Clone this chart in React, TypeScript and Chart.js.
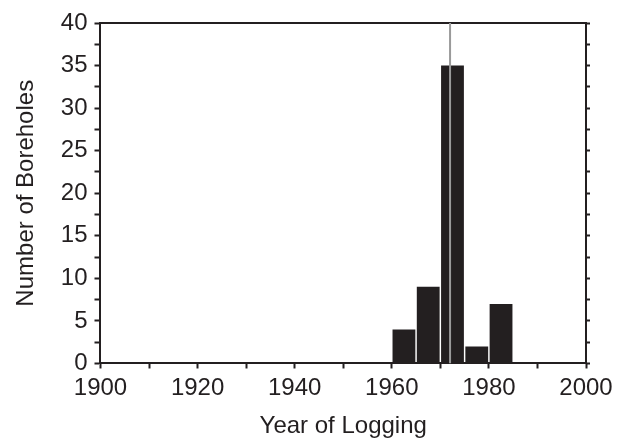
import React, { useEffect, useRef } from "react";
import { Chart, registerables } from "chart.js";

Chart.register(...registerables);

const binCenters = [1962.5, 1967.5, 1972.5, 1977.5, 1982.5];
const boreholeCounts = [4, 9, 35, 2, 7];
const markerYear = 1972;
const xMin = 1900;
const xMax = 2000;
const yMin = 0;
const yMax = 40;
const xTitle = "Year of Logging";
const yTitle = "Number of Boreholes";

const INK = "#231f20";
const FONT = "'Liberation Sans', Arial, Helvetica, sans-serif";

export default function App() {
  const ref = useRef<HTMLCanvasElement | null>(null);
  useEffect(() => {
    document.body.style.margin = "0";
    const ctx = ref.current!;
    const chart = new Chart(ctx, {
      type: "bar",
      data: {
        datasets: [
          {
            type: "line",
            data: [
              { x: markerYear, y: yMin },
              { x: markerYear, y: yMax },
            ],
            borderColor: "#9a9a9a",
            borderWidth: 2,
            pointRadius: 0,
            order: 0,
            xAxisID: "x",
            yAxisID: "y",
          } as any,
          {
            type: "bar",
            data: binCenters.map((c, i) => ({ x: c, y: boreholeCounts[i] })),
            backgroundColor: INK,
            borderWidth: 0,
            categoryPercentage: 1,
            barPercentage: 0.94,
            order: 1,
            xAxisID: "x",
            yAxisID: "y",
          } as any,
        ],
      },
      options: {
        animation: false,
        responsive: true,
        maintainAspectRatio: false,
        layout: { padding: { top: 23, right: 34, left: 0, bottom: 0 } },
        plugins: { legend: { display: false }, tooltip: { enabled: false } },
        scales: {
          x: {
            type: "linear",
            position: "bottom",
            min: xMin,
            max: xMax,
            offset: false,
            grid: { offset: false, drawOnChartArea: false, drawTicks: true, tickLength: 5, tickColor: INK, tickWidth: 2 },
            border: { display: true, color: INK, width: 2 },
            ticks: {
              stepSize: 10,
              autoSkip: false,
              maxRotation: 0,
              color: INK,
              padding: 8,
              font: { family: FONT, size: 24, lineHeight: 1 },
              callback: (v: any) => (Number(v) % 20 === 0 ? String(v) : ""),
            },
            title: { display: true, text: xTitle, color: INK, font: { family: FONT, size: 24, lineHeight: 0.98 }, padding: { top: 6, bottom: 0 } },
          },
          xTop: {
            type: "linear",
            position: "top",
            min: xMin,
            max: xMax,
            grid: { drawOnChartArea: false, drawTicks: false },
            border: { display: true, color: INK, width: 2 },
            ticks: { display: false },
          },
          y: {
            type: "linear",
            position: "left",
            min: yMin,
            max: yMax,
            grid: { drawOnChartArea: false, drawTicks: true, tickLength: 6, tickColor: INK, tickWidth: 2 },
            border: { display: true, color: INK, width: 2 },
            ticks: {
              stepSize: 2.5,
              autoSkip: false,
              color: INK,
              padding: 7,
              font: { family: FONT, size: 24 },
              callback: (v: any) => (Number(v) % 5 === 0 ? String(v) : ""),
            },
            title: { display: true, text: yTitle, color: INK, font: { family: FONT, size: 24 }, padding: { top: 12, bottom: 13 } },
          },
          yRight: {
            type: "linear",
            position: "right",
            min: yMin,
            max: yMax,
            grid: { drawOnChartArea: false, drawTicks: true, tickLength: 4, tickColor: INK, tickWidth: 2 },
            border: { display: true, color: INK, width: 2 },
            ticks: { stepSize: 2.5, autoSkip: false, display: false },
          },
        },
      } as any,
    });
    return () => chart.destroy();
  }, []);
  return (
    <div style={{ position: "relative", width: 624, height: 438 }}>
      <canvas ref={ref} />
    </div>
  );
}
